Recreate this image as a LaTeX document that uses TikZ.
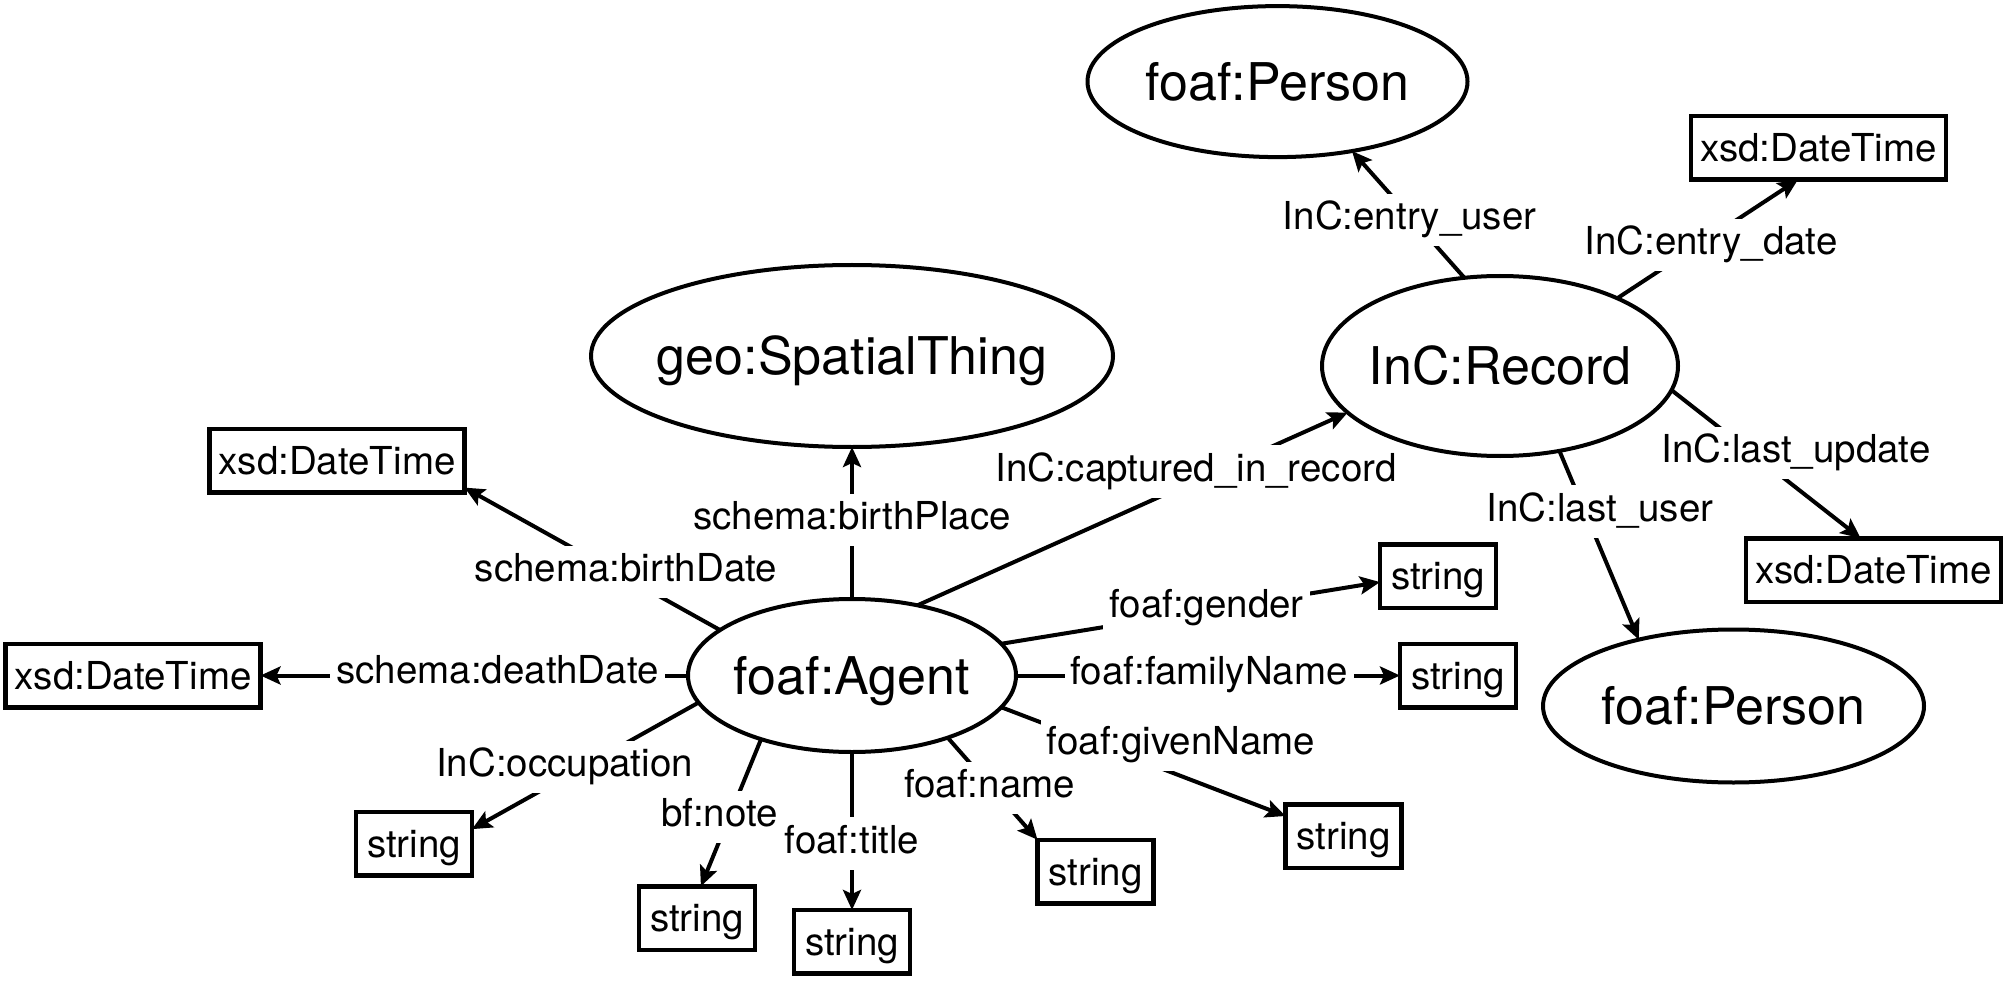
\documentclass[tikz,border=0pt]{standalone}
\usepackage{fontspec}
\setmainfont{TeX Gyre Heros}
\usetikzlibrary{shapes.geometric,arrows.meta}
\newcommand\mkbx[1]{\makebox[0pt]{#1}}
\begin{document}
\begin{tikzpicture}[x=1pt,y=-1pt,
  every node/.style={font=\fontsize{38.5}{46}\selectfont},
  cls/.style={ellipse,draw,line width=4pt,inner sep=0pt,outer sep=0pt,
    font=\fontsize{52}{60}\selectfont,text height=37pt,text depth=0pt},
  lit/.style={rectangle,draw,line width=4.5pt,inner sep=0pt,outer sep=0pt,
    minimum height=63.5pt,text height=27.7pt,text depth=0pt},
  strbox/.style={lit,minimum width=116pt},
  xsdbox/.style={lit,minimum width=255pt},
  lbl/.style={fill=white,inner xsep=6pt,inner ysep=8pt,text height=27.7pt,text depth=8.5pt},
  arr/.style={line width=4pt,-{Stealth[length=20pt,width=18pt,inset=4pt]}}
]
\fill[white] (0,0) rectangle (2008,984);
\useasboundingbox (0,0) rectangle (2008,984);

% classes
\node[cls,minimum width=522pt,minimum height=182pt] (geo) at (852,356) {\mkbx{geo:SpatialThing}};
\node[cls,minimum width=328pt,minimum height=153pt] (agent) at (852,675.5) {\mkbx{foaf:Agent}};
\node[cls,minimum width=356pt,minimum height=180pt] (rec) at (1500,366) {\mkbx{InC:Record}};
\node[cls,minimum width=380pt,minimum height=151pt] (pTop) at (1277.5,81.6) {\mkbx{foaf:Person}};
\node[cls,minimum width=381pt,minimum height=153pt] (pBot) at (1733.5,706) {\mkbx{foaf:Person}};

% literals
\node[xsdbox] (xsdTR) at (1818.5,148) {xsd:DateTime};
\node[xsdbox] (xsdBR) at (1873.5,570) {xsd:DateTime};
\node[xsdbox] (xsdTL) at (337,460.5) {xsd:DateTime};
\node[xsdbox] (xsdL) at (133,675.5) {xsd:DateTime};
\node[strbox] (sOcc) at (414,843.6) {string};
\node[strbox] (sNote) at (697,918) {string};
\node[strbox] (sTitle) at (852,941.7) {string};
\node[strbox] (sName) at (1095.5,871.5) {string};
\node[strbox] (sGiven) at (1343.5,836) {string};
\node[strbox] (sGender) at (1438,576) {string};
\node[strbox] (sFamily) at (1458,675.5) {string};

% connectors
\draw[arr] (agent.90) -- (geo.270);
\draw[arr] (agent.47.4) -- (rec.197.3);
\draw[arr] (agent.161.7) -- (xsdTL.348.3);
\draw[arr] (agent.180) -- (xsdL.0);
\draw[arr] (agent.190.9) -- (sOcc.14);
\draw[arr] (agent.215.6) -- (sNote.83.8);
\draw[arr] (agent.270) -- (sTitle.90);
\draw[arr] (agent.327.4) -- (sName.north west);
\draw[arr] (agent.348.4) -- (sGiven.161.1);
\draw[arr] (agent.0) -- (sFamily.180);
\draw[arr] (agent.12.8) -- (sGender.186.7);
\draw[arr] (rec.112.9) -- (pTop.317.4);
\draw[arr] (rec.30.8) -- (xsdTR.237.7);
\draw[arr] (rec.352.2) -- (xsdBR.112);
\draw[arr] (rec.305) -- (pBot.145.4);

% labels
\node[lbl] (lBP) at (852,520) {schema:birthPlace};
\node[lbl] (lBD) at (626,572) {schema:birthDate};
\node[lbl] (lDD) at (497.5,674) {schema:deathDate};
\node[lbl] (lOcc) at (564.5,767) {InC:occupation};
\node[lbl] (lNote) at (719.5,816.7) {bf:note};
\node[lbl] (lTitle) at (852,843.5) {foaf:title};
\node[lbl] (lName) at (989.5,788) {foaf:name};
\node[lbl] (lGiven) at (1181,745) {foaf:givenName};
\node[lbl] (lFamily) at (1209,675) {foaf:familyName};
\node[lbl] (lGender) at (1206.5,608) {foaf:gender};
\node[lbl] (lCap) at (1196,471.5) {InC:captured\_in\_record};
\node[lbl] (lEU) at (1409.6,219.7) {InC:entry\_user};
\node[lbl] (lED) at (1711,245) {InC:entry\_date};
\node[lbl] (lLU) at (1796,453) {InC:last\_update};
\node[lbl] (lLUs) at (1600,511.5) {InC:last\_user};
\end{tikzpicture}
\end{document}
